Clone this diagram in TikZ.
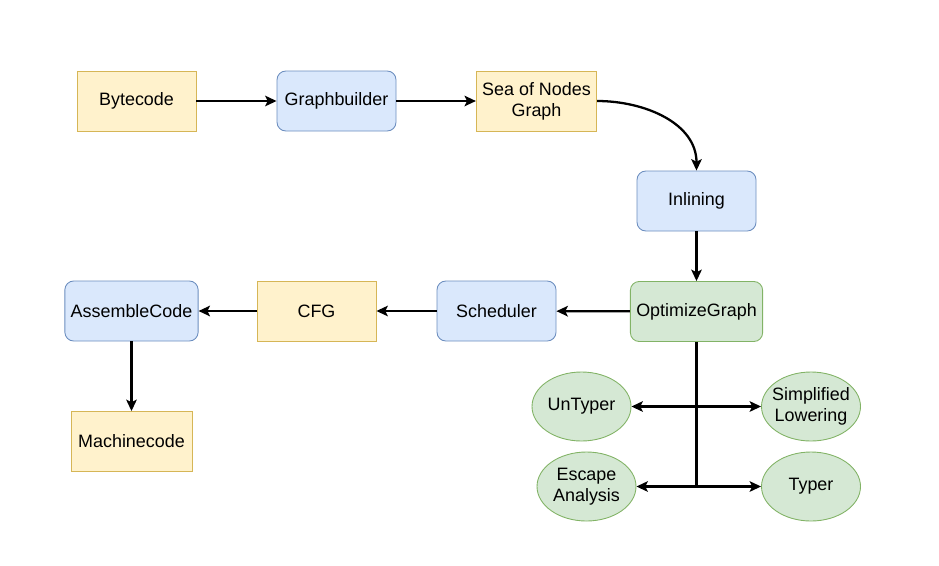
\documentclass[tikz,border=0pt]{standalone}
\usepackage{fontspec}
\setmainfont{Liberation Sans}
\usetikzlibrary{arrows.meta,shapes.geometric}

\definecolor{ylwfill}{HTML}{FFF2CC}
\definecolor{ylwline}{HTML}{D6B656}
\definecolor{bluefill}{HTML}{DAE8FC}
\definecolor{blueline}{HTML}{6C8EBF}
\definecolor{grnfill}{HTML}{D5E8D4}
\definecolor{grnline}{HTML}{82B366}

\tikzset{
  data/.style={draw=ylwline, fill=ylwfill, line width=0.5pt, minimum width=119*0.02cm, minimum height=60*0.02cm, align=center},
  phase/.style={draw=blueline, fill=bluefill, line width=0.5pt, rounded corners=5pt, minimum width=119*0.02cm, minimum height=60*0.02cm, align=center},
  optbox/.style={draw=grnline, fill=grnfill, line width=0.5pt, rounded corners=5pt, minimum width=130*0.02cm, minimum height=60*0.02cm, align=center},
  pass/.style={ellipse, draw=grnline, fill=grnfill, line width=0.5pt, minimum width=99*0.02cm, minimum height=69*0.02cm, inner sep=-4pt, align=center},
  tip/.style={-{Stealth[length=6.5pt,width=6pt,inset=1.5pt]}},
  flow/.style={line width=1.3pt, tip},
  twoway/.style={line width=1.3pt, {Stealth[length=6.5pt,width=6pt,inset=1.5pt]}-{Stealth[length=6.5pt,width=6pt,inset=1.5pt]}},
}

\begin{document}
\begin{tikzpicture}[x=0.02cm, y=-0.02cm, font=\fontsize{10.2}{12}\selectfont]
    \useasboundingbox (0,0) rectangle (939,565);
    \node[data](bytecode) at (136.5,101) {Bytecode};
    \node[phase](gbuilder) at (336.5,101) {Graphbuilder};
    \node[data](son) at (536.5,101) {Sea of Nodes\\Graph};
    \node[phase](inlining) at (696.5,201) {Inlining};
    \node[optbox](optgraph) at (696.5,311.5) {OptimizeGraph};
    \node[phase](scheduler) at (496.5,311) {Scheduler};
    \node[data](cfg) at (316.5,311) {CFG};
    \node[phase, minimum width=131*0.02cm](assemble) at (131.5,311) {AssembleCode};
    \node[data, minimum width=121*0.02cm](mcode) at (131.5,441.5) {Machinecode};
    \node[pass](untyper) at (581.5,406.5) {UnTyper};
    \node[pass](simplow) at (811,406.5) {Simplified\\Lowering};
    \node[pass](escape) at (586.5,486.5) {Escape\\Analysis};
    \node[pass](typer) at (811,486.5) {Typer};
    \coordinate(split) at (696.5,486.5);
    \draw[flow] (bytecode) -- (gbuilder);
    \draw[flow] (gbuilder) -- (son);
    \draw[flow] (son.east) to[out=0,in=90] (inlining.north);
    \draw[flow] (inlining) -- (optgraph);
    \draw[flow] (optgraph) -- (scheduler);
    \draw[flow] (scheduler) -- (cfg);
    \draw[flow] (cfg) -- (assemble);
    \draw[flow] (assemble) -- (mcode);
    \draw[line width=1.3pt] (optgraph) -- (split);
    \draw[twoway] (untyper) -- (simplow);
    \draw[twoway] (escape) -- (typer);
\end{tikzpicture}
\end{document}
